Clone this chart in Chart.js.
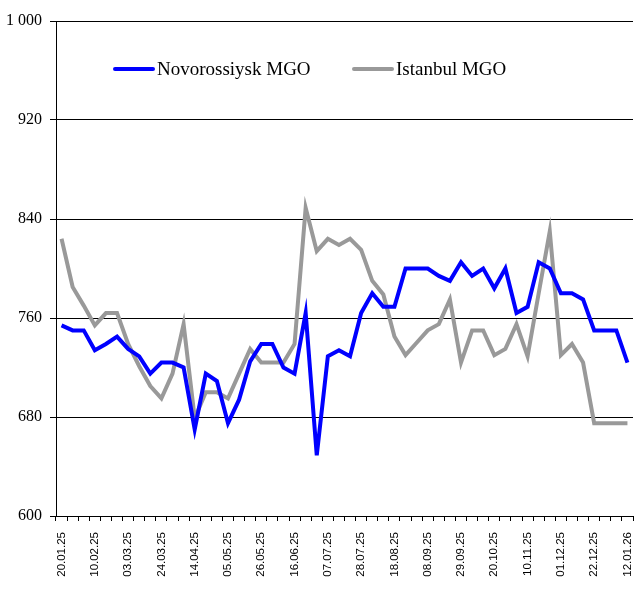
<!DOCTYPE html>
<html>
<head>
<meta charset="utf-8">
<script src="https://cdn.jsdelivr.net/npm/chart.js@4/dist/chart.umd.min.js"></script>
<style>
    body { margin: 0; background: #fff; }
    #wrap { position: relative; width: 644px; height: 596px; }
    .legend-item {
        position: absolute;
        top: 57px;
        height: 24px;
        display: flex;
        align-items: center;
        font-family: "Liberation Serif", "Times New Roman", serif;
        font-size: 19px;
        color: #000;
        white-space: nowrap;
    }
    .legend-item .swatch {
        display: inline-block;
        width: 42px;
        height: 4px;
        margin-right: 2px;
        border-radius: 2px;
    }
</style>
</head>
<body>
<div id="wrap">
    <canvas id="fuelChart" width="644" height="596"></canvas>
    <div class="legend-item" style="left:113px;"><span class="swatch" style="background:#0000ff;"></span>Novorossiysk MGO</div>
    <div class="legend-item" style="left:352px;"><span class="swatch" style="background:#999999;"></span>Istanbul MGO</div>
</div>
<script>
    var weeks = [
        '20.01.25', '27.01.25', '03.02.25', '10.02.25', '17.02.25', '24.02.25', '03.03.25', '10.03.25',
        '17.03.25', '24.03.25', '31.03.25', '07.04.25', '14.04.25', '21.04.25', '28.04.25', '05.05.25',
        '12.05.25', '19.05.25', '26.05.25', '02.06.25', '09.06.25', '16.06.25', '23.06.25', '30.06.25',
        '07.07.25', '14.07.25', '21.07.25', '28.07.25', '04.08.25', '11.08.25', '18.08.25', '25.08.25',
        '01.09.25', '08.09.25', '15.09.25', '22.09.25', '29.09.25', '06.10.25', '13.10.25', '20.10.25',
        '27.10.25', '03.11.25', '10.11.25', '17.11.25', '24.11.25', '01.12.25', '08.12.25', '15.12.25',
        '22.12.25', '29.12.25', '05.01.26', '12.01.26'
    ];

    var novorossiyskMgo = [
        754, 750, 750, 734, 739, 745, 735, 729, 715, 724,
        724, 720, 670, 715, 709, 675, 694, 725, 739, 739,
        720, 715, 764, 649, 729, 734, 729, 764, 780, 769,
        769, 800, 800, 800, 794, 790, 805, 794, 800, 784,
        800, 764, 769, 805, 800, 780, 780, 775, 750, 750,
        750, 724
    ];

    var istanbulMgo = [
        824, 785, 770, 754, 764, 764, 739, 721, 705, 695,
        715, 755, 679, 700, 700, 695, 715, 735, 724, 724,
        724, 739, 849, 814, 824, 819, 824, 815, 790, 779,
        745, 730, 740, 750, 755, 775, 724, 750, 750, 730,
        735, 755, 729, 780, 830, 730, 739, 724, 675, 675,
        675, 675
    ];

    var yMin = 600;
    var yMax = 1000;
    var yStep = 80;
    var labelEvery = 3;

    var formatThousands = function (value) {
        return String(value).replace(/\B(?=(\d{3})+(?!\d))/g, ' ');
    };

    var config = {
        type: 'line',
        data: {
            labels: weeks,
            datasets: [
                {
                    label: 'Novorossiysk MGO',
                    data: novorossiyskMgo,
                    borderColor: '#0000ff',
                    backgroundColor: '#0000ff',
                    borderWidth: 4,
                    pointRadius: 0,
                    tension: 0,
                    fill: false
                },
                {
                    label: 'Istanbul MGO',
                    data: istanbulMgo,
                    borderColor: '#999999',
                    backgroundColor: '#999999',
                    borderWidth: 4,
                    pointRadius: 0,
                    tension: 0,
                    fill: false
                }
            ]
        },
        options: {
            responsive: false,
            animation: false,
            layout: {
                padding: { top: 21, right: 11, left: 0, bottom: 0 }
            },
            plugins: {
                legend: { display: false },
                tooltip: { enabled: false }
            },
            scales: {
                x: {
                    offset: true,
                    grid: {
                        offset: true,
                        drawOnChartArea: false,
                        drawTicks: true,
                        tickLength: 5,
                        color: '#000'
                    },
                    border: { color: '#000', width: 1 },
                    ticks: {
                        autoSkip: false,
                        maxRotation: 90,
                        minRotation: 90,
                        padding: 11,
                        color: '#000',
                        font: { family: '"Liberation Sans", Arial, sans-serif', size: 11.5 },
                        callback: function (value, index) {
                            return index % labelEvery === 0 ? this.getLabelForValue(value) : '';
                        }
                    },
                    afterFit: function (scale) {
                        scale.height = 80;
                        scale.paddingLeft = 0;
                        scale.paddingRight = 0;
                    }
                },
                y: {
                    min: yMin,
                    max: yMax,
                    grid: {
                        color: '#000',
                        lineWidth: 1,
                        drawTicks: true,
                        tickLength: 6
                    },
                    border: { color: '#000', width: 1 },
                    ticks: {
                        stepSize: yStep,
                        padding: 8,
                        color: '#000',
                        font: { family: '"Liberation Serif", "Times New Roman", serif', size: 16 },
                        callback: function (value) {
                            return formatThousands(value);
                        }
                    },
                    afterFit: function (scale) {
                        scale.width = 56;
                    }
                }
            }
        }
    };

    new Chart(document.getElementById('fuelChart'), config);
</script>
</body>
</html>
